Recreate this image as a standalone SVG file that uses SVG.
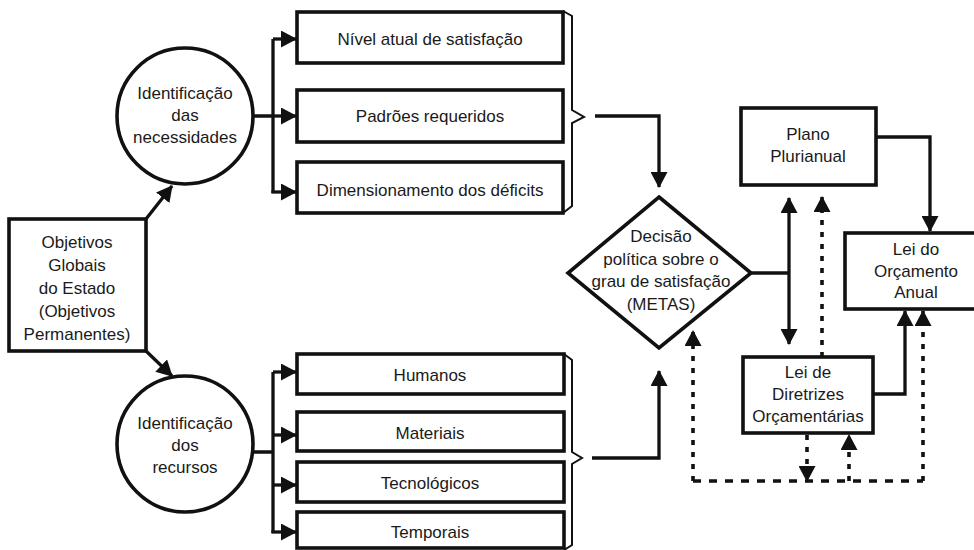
<svg xmlns="http://www.w3.org/2000/svg" width="974" height="550" viewBox="0 0 974 550">
<style>
.n{fill:#fff;stroke:#111;stroke-width:3.6}
.t{font-family:"Liberation Sans",Arial,sans-serif;font-size:17px;fill:#1a1a1a;text-anchor:middle}
.c{fill:none;stroke:#111;stroke-width:3.3}
.d{fill:none;stroke:#111;stroke-width:3.6;stroke-dasharray:5 7}
.b{fill:none;stroke:#111;stroke-width:2}
</style>
<defs>
<marker id="a" markerUnits="userSpaceOnUse" viewBox="0 0 16 17" refX="15" refY="8.5" markerWidth="16" markerHeight="17" orient="auto-start-reverse">
<path d="M0,0 L16,8.5 L0,17 z" fill="#111"/>
</marker>
</defs>
<rect width="974" height="550" fill="#fff"/>

<g id="connectors">
<path class="c" d="M146,219 L172,186" marker-end="url(#a)"/>
<path class="c" d="M146,351 L172,376" marker-end="url(#a)"/>
<path class="c" d="M253,116 H273 M273,39 V193"/>
<path class="c" d="M273,39 H296" marker-end="url(#a)"/>
<path class="c" d="M273,116 H296" marker-end="url(#a)"/>
<path class="c" d="M271.4,192 H296" marker-end="url(#a)"/>
<path class="c" d="M254,452 H273 M273,372 V533"/>
<path class="c" d="M273,372 H296" marker-end="url(#a)"/>
<path class="c" d="M273,435 H296" marker-end="url(#a)"/>
<path class="c" d="M273,485 H296" marker-end="url(#a)"/>
<path class="c" d="M271.4,532 H296" marker-end="url(#a)"/>
<path class="b" d="M563,11 L572,16 V110 L584,117 L572,123 V206 L563,213"/>
<path class="b" d="M564,354 L572,360 V452 L582,458 L572,464 V545 L564,550"/>
<path class="c" d="M595,116 H659 V187" marker-end="url(#a)"/>
<path class="c" d="M592,458 H659 V371" marker-end="url(#a)"/>
<path class="c" d="M751,273 H789"/>
<path class="c" d="M789,198 V344" marker-start="url(#a)" marker-end="url(#a)"/>
<path class="c" d="M876,137 H930 V231" marker-end="url(#a)"/>
<path class="c" d="M873,394 H905 V311" marker-end="url(#a)"/>
<path class="d" d="M822,357 V197" marker-end="url(#a)"/>
<path class="d" d="M693,481 V331" marker-end="url(#a)"/>
<path class="d" d="M923,481 V311" marker-end="url(#a)"/>
<path class="d" d="M693,481 H923" style="stroke-dasharray:8 8"/>
<path class="d" d="M807,435 V481" marker-end="url(#a)"/>
<path class="d" d="M849,481 V435" marker-end="url(#a)"/>
</g>

<g id="objetivos">
<rect class="n" x="9" y="219" width="137" height="132"/>
<text class="t" x="77" y="248">Objetivos</text>
<text class="t" x="77" y="271">Globais</text>
<text class="t" x="77" y="294">do Estado</text>
<text class="t" x="77" y="317">(Objetivos</text>
<text class="t" x="77" y="340">Permanentes)</text>
</g>

<g id="ident-necessidades">
<circle class="n" cx="185" cy="116" r="68"/>
<text class="t" x="185" y="99">Identificação</text>
<text class="t" x="185" y="121">das</text>
<text class="t" x="185" y="143">necessidades</text>
</g>

<g id="ident-recursos">
<circle class="n" cx="185" cy="444" r="68"/>
<text class="t" x="185" y="429">Identificação</text>
<text class="t" x="185" y="451">dos</text>
<text class="t" x="185" y="473">recursos</text>
</g>

<g id="nivel">
<rect class="n" x="297" y="12" width="266" height="51"/>
<text class="t" x="430" y="45">Nível atual de satisfação</text>
</g>
<g id="padroes">
<rect class="n" x="297" y="90" width="266" height="52"/>
<text class="t" x="430" y="122">Padrões requeridos</text>
</g>
<g id="dimensionamento">
<rect class="n" x="297" y="162" width="266" height="51"/>
<text class="t" x="430" y="196">Dimensionamento dos déficits</text>
</g>

<g id="humanos">
<rect class="n" x="297" y="354" width="267" height="40"/>
<text class="t" x="430" y="381">Humanos</text>
</g>
<g id="materiais">
<rect class="n" x="297" y="412" width="267" height="39"/>
<text class="t" x="430" y="439">Materiais</text>
</g>
<g id="tecnologicos">
<rect class="n" x="297" y="462" width="267" height="40"/>
<text class="t" x="430" y="489">Tecnológicos</text>
</g>
<g id="temporais">
<rect class="n" x="297" y="512" width="267" height="36"/>
<text class="t" x="430" y="538">Temporais</text>
</g>

<g id="decisao">
<polygon class="n" points="659,197 751,273 659,348 568,273"/>
<text class="t" x="661" y="242">Decisão</text>
<text class="t" x="661" y="265">política sobre o</text>
<text class="t" x="661" y="287">grau de satisfação</text>
<text class="t" x="661" y="310">(METAS)</text>
</g>

<g id="plano">
<rect class="n" x="741" y="108" width="135" height="77"/>
<text class="t" x="808" y="140">Plano</text>
<text class="t" x="808" y="162">Plurianual</text>
</g>

<g id="loa">
<rect class="n" x="845" y="233" width="150" height="76"/>
<text class="t" x="916" y="255">Lei do</text>
<text class="t" x="916" y="277">Orçamento</text>
<text class="t" x="916" y="298">Anual</text>
</g>

<g id="ldo">
<rect class="n" x="743" y="357" width="130" height="76"/>
<text class="t" x="808" y="378">Lei de</text>
<text class="t" x="808" y="400">Diretrizes</text>
<text class="t" x="808" y="422">Orçamentárias</text>
</g>
</svg>
